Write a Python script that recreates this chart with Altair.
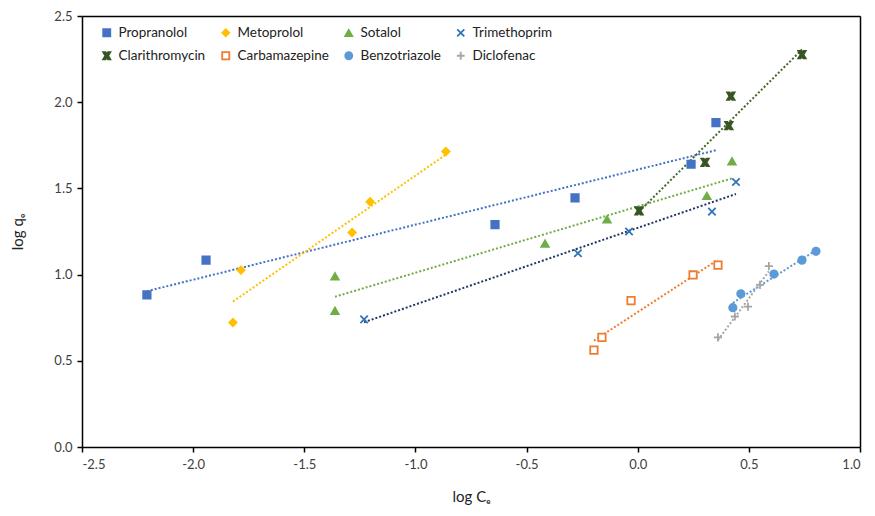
import altair as alt
import pandas as pd

series_names = ["Propranolol", "Metoprolol", "Sotalol", "Trimethoprim",
                "Clarithromycin", "Carbamazepine", "Benzotriazole", "Diclofenac"]

propranolol_x = [-2.208, -1.942, -0.642, -0.282, 0.240, 0.352]
propranolol_y = [0.883, 1.084, 1.290, 1.445, 1.640, 1.881]
metoprolol_x = [-1.821, -1.785, -1.285, -1.204, -0.863]
metoprolol_y = [0.722, 1.026, 1.244, 1.422, 1.714]
sotalol_x = [-1.362, -1.362, -0.417, -0.138, 0.311, 0.424]
sotalol_y = [0.790, 0.990, 1.180, 1.320, 1.456, 1.657]
trimethoprim_x = [-1.231, -0.269, -0.039, 0.334, 0.442]
trimethoprim_y = [0.740, 1.124, 1.250, 1.365, 1.537]
clarithromycin_x = [0.006, 0.303, 0.410, 0.419, 0.739]
clarithromycin_y = [1.370, 1.651, 1.864, 2.035, 2.276]
carbamazepine_x = [-0.197, -0.161, -0.030, 0.249, 0.361]
carbamazepine_y = [0.562, 0.636, 0.849, 0.998, 1.055]
benzotriazole_x = [0.428, 0.464, 0.613, 0.739, 0.802]
benzotriazole_y = [0.808, 0.889, 1.003, 1.084, 1.135]
diclofenac_x = [0.361, 0.437, 0.496, 0.550, 0.590]
diclofenac_y = [0.636, 0.757, 0.814, 0.940, 1.049]

all_x = [propranolol_x, metoprolol_x, sotalol_x, trimethoprim_x,
         clarithromycin_x, carbamazepine_x, benzotriazole_x, diclofenac_x]
all_y = [propranolol_y, metoprolol_y, sotalol_y, trimethoprim_y,
         clarithromycin_y, carbamazepine_y, benzotriazole_y, diclofenac_y]

x_ticks = [-2.5, -2.0, -1.5, -1.0, -0.5, 0.0, 0.5, 1.0]
y_ticks = [0.0, 0.5, 1.0, 1.5, 2.0, 2.5]

rows = []
for name, xs, ys in zip(series_names, all_x, all_y):
    for xv, yv in zip(xs, ys):
        rows.append({"series": name, "x": xv, "y": yv})
df = pd.DataFrame(rows)

marker_stroke = ["#4472C4", "#FFC000", "#70AD47", "#2E75B6",
                 "#375623", "#ED7D31", "#5B9BD5", "#A5A5A5"]
marker_fill = ["#4472C4", "#FFC000", "#70AD47", "transparent",
               "#375623", "white", "#5B9BD5", "transparent"]
trend_colors = ["#4472C4", "#FFC000", "#70AD47", "#203864",
                "#43682B", "#ED7D31", "#5B9BD5", "#A5A5A5"]
shapes = ["square", "diamond", "triangle-up",
          "M-1,-1L1,1M-1,1L1,-1",
          "M-1,-1L-0.35,-1L0,-0.45L0.35,-1L1,-1L0.4,0L1,1L0.35,1L0,0.45L-0.35,1L-1,1L-0.4,0Z",
          "square", "circle",
          "M-1.1,0L1.1,0M0,-1.1L0,1.1"]

FONT = "Lato, 'DejaVu Sans', sans-serif"
LABEL_EXPR = "replace(format(datum.value, '.1f'), '\u2212', '-')"

xscale = alt.Scale(domain=[-2.5, 1.0], nice=False, zero=False)
yscale = alt.Scale(domain=[0, 2.5], nice=False)

xaxis = alt.Axis(values=x_ticks, labelExpr=LABEL_EXPR, title="log Cₑ",
                 grid=False, tickSize=5, tickColor="black",
                 domainColor="black", domainWidth=1.5, tickWidth=1.5,
                 labelFontSize=13, labelColor="#404040", labelPadding=6,
                 labelFont=FONT, titleFont=FONT,
                 titleFontSize=15, titleFontWeight="normal",
                 titlePadding=18, titleColor="#222")
yaxis = alt.Axis(values=y_ticks, labelExpr=LABEL_EXPR, title="log qₑ",
                 grid=False, tickSize=5, tickColor="black",
                 domainColor="black", domainWidth=1.5, tickWidth=1.5,
                 labelFontSize=13, labelColor="#404040", labelPadding=5,
                 labelFont=FONT, titleFont=FONT,
                 titleFontSize=15, titleFontWeight="normal",
                 titlePadding=28, titleColor="#222")
xaxis_top = alt.Axis(orient="top", labels=False, ticks=False, title=None,
                     grid=False, domainColor="black", domainWidth=1.5)
yaxis_right = alt.Axis(orient="right", labels=False, ticks=False, title=None,
                       grid=False, domainColor="black", domainWidth=1.5)

layers = []

frame = alt.Chart(df).mark_point(opacity=0).encode(
    x=alt.X("x:Q", scale=xscale, axis=xaxis_top),
    y=alt.Y("y:Q", scale=yscale, axis=yaxis_right),
)
layers.append(frame)

for name, tcol in zip(series_names, trend_colors):
    layers.append(
        alt.Chart(df).transform_filter(
            alt.datum.series == name
        ).transform_regression("x", "y").mark_line(
            strokeDash=[2, 2], strokeWidth=2, strokeCap="butt", color=tcol
        ).encode(
            x=alt.X("x:Q", scale=xscale, axis=None),
            y=alt.Y("y:Q", scale=yscale, axis=None),
        )
    )

legend = alt.Legend(title=None, orient="none", legendX=18, legendY=10,
                    direction="horizontal",
                    columns=4, columnPadding=12, rowPadding=8, symbolSize=50,
                    symbolOpacity=1, symbolStrokeWidth=1.8,
                    labelFontSize=13.5, labelColor="#222", labelOffset=5,
                    labelFont=FONT)

points = alt.Chart(df).mark_point(filled=False, size=55, strokeWidth=1.8,
                                  opacity=1).encode(
    x=alt.X("x:Q", scale=xscale, axis=xaxis),
    y=alt.Y("y:Q", scale=yscale, axis=yaxis),
    shape=alt.Shape("series:N", sort=series_names,
                    scale=alt.Scale(domain=series_names, range=shapes),
                    legend=legend),
    stroke=alt.Stroke("series:N", sort=series_names,
                      scale=alt.Scale(domain=series_names, range=marker_stroke),
                      legend=legend),
    fill=alt.Fill("series:N", sort=series_names,
                  scale=alt.Scale(domain=series_names, range=marker_fill),
                  legend=legend),
)
layers.append(points)

chart = alt.layer(*layers).resolve_axis(
    x="independent", y="independent"
).properties(
    width=778, height=431,
    background="white",
    autosize=alt.AutoSizeParams(type="none"),
    padding={"left": 74, "top": 8, "right": 7, "bottom": 61},
)

chart.save("out.html", embed_options={"renderer": "svg", "actions": False})
